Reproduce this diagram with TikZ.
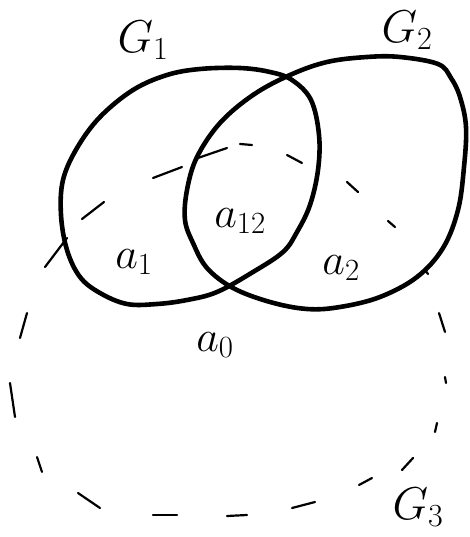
\RequirePackage{fix-cm}
\documentclass[tikz,border=0pt]{standalone}
\begin{document}
\begin{tikzpicture}[x=1pt,y=-1pt,
  setline/.style={line width=4.6pt,line join=round},
  dashseg/.style={line width=2.2pt,line cap=round},
  lbl/.style={inner sep=0pt,font=\fontsize{44}{48}\selectfont},
  glbl/.style={inner sep=0pt,font=\fontsize{46}{50}\selectfont}]
\useasboundingbox (0,0) rectangle (470,537);
% G1
\draw[setline] plot[smooth cycle,tension=0.6] coordinates {
 (200,69) (240,68) (270,72) (292,80) (311,100) (319,135) (318,170)
 (310,205) (297,232) (283,252) (253,272) (217,292) (187,300) (157,304)
 (127,304) (100,293) (80,277) (67,250) (61,215) (63,180) (77,148)
 (100,117) (133,90) (167,75)};
% G2
\draw[setline] plot[smooth cycle,tension=0.6] coordinates {
 (400,57) (367,57) (327,62) (290,75) (253,95) (220,123) (197,157)
 (187,190) (185,220) (193,243) (207,268) (233,288) (270,302)
 (307,309) (340,307) (380,297) (417,277) (443,248) (458,210)
 (464,167) (466,127) (460,97) (451,78) (438,64)};
% G3 (dashed, hand-drawn dashes)
\foreach \ax/\ay/\bx/\by in {
 45/267/67/238, 82/219/104/202, 153/178/182/167, 195/159/227/148,
 240/144/252/145, 287/155/302/163, 347/182/358/192, 388/221/395/227,
 425/270/428/274, 439/313/445/332, 445/377/446/383, 437/423/435/432,
 413/458/402/470, 372/478/359/485, 315/502/292/508, 247/515/227/516,
 177/515/153/515, 100/508/78/493, 42/472/37/457, 15/417/10/383,
 20/338/27/313}
 \draw[dashseg] (\ax,\ay) -- (\bx,\by);
% labels
\node[glbl] (g1) at (143,40) {$G_1$};
\node[glbl] (g2) at (407,30) {$G_2$};
\node[glbl] (g3) at (418,507) {$G_3$};
\node[lbl] (a1) at (134,262) {$a_1$};
\node[lbl] (a12) at (240,221) {$a_{12}$};
\node[lbl] (a2) at (341,268) {$a_2$};
\node[lbl] (a0) at (215,345) {$a_0$};
\end{tikzpicture}
\end{document}
